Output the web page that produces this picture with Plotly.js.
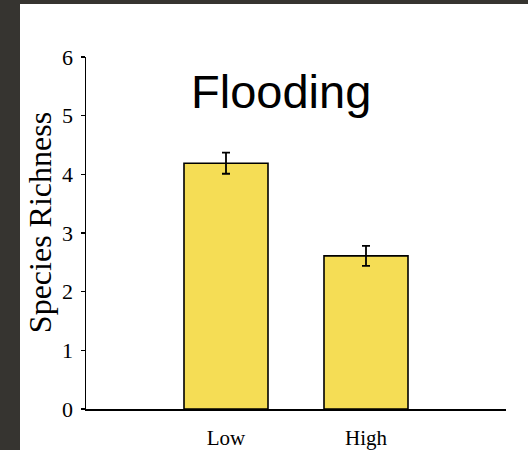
<!DOCTYPE html>
<html>
<head>
<meta charset="utf-8">
<script src="https://cdn.plot.ly/plotly-3.0.1.min.js"></script>
<style>
  html, body { margin: 0; padding: 0; width: 528px; height: 450px; background: #363430; overflow: hidden; }
  #chart { position: absolute; left: 20px; top: 4px; width: 508px; height: 446px; background: #ffffff; }
</style>
</head>
<body>
<div id="chart"></div>
<script>
const categories = ["Low", "High"];
const richness = [4.19, 2.61];
const errors = [0.18, 0.17];
const yTicks = [0, 1, 2, 3, 4, 5, 6];

const trace = {
  type: "bar",
  x: categories,
  y: richness,
  width: 0.6,
  marker: { color: "#f5dd55", line: { color: "#000000", width: 1.6 } },
  error_y: { type: "data", array: errors, visible: true, color: "#000000", thickness: 1.8, width: 4 },
  hoverinfo: "none"
};

const layout = {
  width: 508,
  height: 446,
  margin: { l: 66, r: 22, t: 53, b: 41, pad: 0 },
  paper_bgcolor: "#ffffff",
  plot_bgcolor: "#ffffff",
  showlegend: false,
  font: { family: "Liberation Serif, Times New Roman, serif", color: "#000000" },
  xaxis: {
    type: "category",
    range: [-1, 2],
    showline: true,
    linecolor: "#000000",
    linewidth: 2,
    ticks: "",
    ticklabelstandoff: 9,
    showgrid: false,
    zeroline: false,
    tickfont: { size: 21, family: "Liberation Serif, Times New Roman, serif" },
    fixedrange: true
  },
  yaxis: {
    range: [0, 6],
    tickvals: yTicks,
    ticktext: yTicks.map(String),
    showline: true,
    linecolor: "#000000",
    linewidth: 1.5,
    ticks: "outside",
    ticklen: 4,
    tickwidth: 1.5,
    tickcolor: "#000000",
    ticklabelstandoff: 3,
    showgrid: false,
    zeroline: false,
    tickfont: { size: 22, family: "Liberation Serif, Times New Roman, serif" },
    fixedrange: true
  },
  annotations: [
    {
      text: "Flooding",
      xref: "paper", yref: "paper",
      x: 0.464, y: 0.903,
      xanchor: "center", yanchor: "middle",
      showarrow: false,
      font: { family: "Liberation Sans, Arial, sans-serif", size: 47, color: "#000000" }
    },
    {
      text: "Species Richness",
      xref: "paper", yref: "paper",
      x: -0.1095, y: 0.528,
      xanchor: "center", yanchor: "middle",
      textangle: -90,
      showarrow: false,
      font: { family: "Liberation Serif, Times New Roman, serif", size: 32, color: "#000000" }
    }
  ]
};

Plotly.newPlot("chart", [trace], layout, { displayModeBar: false, staticPlot: true });
</script>
</body>
</html>
